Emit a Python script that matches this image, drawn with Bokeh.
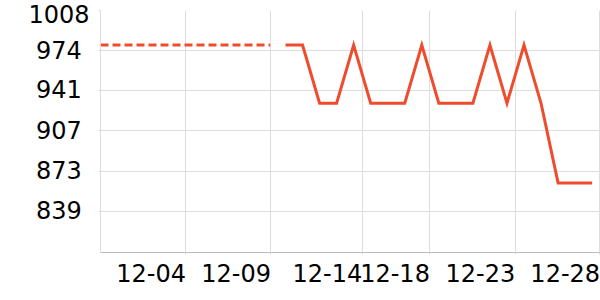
from bokeh.plotting import figure
from bokeh.models import FixedTicker, Range1d
from bokeh.embed import file_html
from bokeh.resources import INLINE

# --- data ---
days = list(range(10, 29))  # December days with measurements
values = [979, 979, 930, 930, 979, 930, 930, 930, 979, 930,
          930, 930, 979, 930, 979, 930, 863, 863, 863]
dash_days = [-0.86, 9.1]
dash_values = [979, 979]
x_grid_pos = [4.15, 9.14, 14.50, 18.47, 23.48, 28.46]
x_tick_labels = ["12-04", "12-09", "12-14", "12-18", "12-23", "12-28"]
y_ticks = [839, 873, 907, 941, 974, 1008]
y_tick_labels = ["839", "873", "907", "941", "974", "1008"]

LINE = "#ef4b2d"
GRID = "#dddddd"
FONT = "DejaVu Sans"
LABEL_SHIFT = 2.04  # labels sit left of their grid line (right-aligned look)

x_label_pos = [g - LABEL_SHIFT for g in x_grid_pos]

p = figure(width=600, height=300, output_backend="svg", toolbar_location=None,
           x_range=Range1d(-0.86, 28.49), y_range=Range1d(804.5, 1008.0),
           min_border_left=100, min_border_right=0, min_border_top=10,
           min_border_bottom=48)
p.outline_line_color = None
p.background_fill_color = "white"

p.line(dash_days, dash_values, line_color=LINE, line_width=3, line_dash="8 4")
p.line(days, values, line_color=LINE, line_width=3, line_join="miter")

# x axis
p.xaxis.ticker = FixedTicker(ticks=x_label_pos, minor_ticks=x_grid_pos)
p.xaxis.major_label_overrides = {t: l for t, l in zip(x_label_pos, x_tick_labels)}
p.xaxis.axis_line_color = "#bbbbbb"
p.xaxis.major_tick_line_color = None
p.xaxis.major_tick_out = 2
p.xaxis.major_tick_in = 0
p.xaxis.minor_tick_line_color = GRID
p.xaxis.minor_tick_out = 2
p.xaxis.minor_tick_in = 0
p.xaxis.major_label_standoff = 9

# y axis (3-digit labels padded so all labels share one centre line)
p.yaxis.ticker = FixedTicker(ticks=y_ticks)
p.yaxis.major_label_overrides = {
    t: (l if len(l) == 4 else l + "\u00a0") for t, l in zip(y_ticks, y_tick_labels)
}
p.yaxis.axis_line_color = GRID
p.yaxis.major_tick_line_color = GRID
p.yaxis.major_tick_out = 2
p.yaxis.major_tick_in = 0
p.yaxis.minor_tick_line_color = None
p.yaxis.major_label_standoff = 9

for ax in (p.xaxis, p.yaxis):
    ax.major_label_text_font = FONT
    ax.major_label_text_font_size = "24px"
    ax.major_label_text_color = "black"

p.xgrid.ticker = FixedTicker(ticks=x_grid_pos)
p.ygrid.ticker = FixedTicker(ticks=y_ticks)
p.grid.grid_line_color = GRID
p.grid.grid_line_width = 1

open("out.html", "w").write(file_html(p, INLINE))
